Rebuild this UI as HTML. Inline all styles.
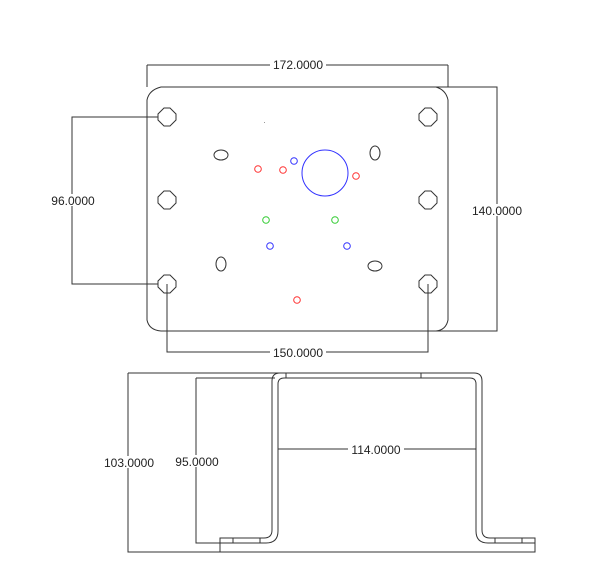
<!DOCTYPE html>
<html><head><style>
html,body{margin:0;padding:0;background:#fff;width:610px;height:588px;overflow:hidden}
text{font-family:"Liberation Sans",sans-serif;font-size:12px;fill:#222}
</style></head><body>
<svg width="610" height="588" viewBox="0 0 610 588" xmlns="http://www.w3.org/2000/svg">
<g fill="none" stroke="#333" stroke-width="1">
<!-- plate -->
<path d="M161,87 L436,87 Q446,90 448,100 L448,320 Q446,330 436,331 L161,331 Q149,330 147,320 L147,100 Q149,90 161,87 Z"/>
<!-- 172 dim -->
<path d="M147,65 L448,65 M147,65 L147,87 M448,65 L448,87"/>
<!-- 140 dim -->
<path d="M436,87 L497,87 L497,331 L436,331"/>
<!-- 96 dim -->
<path d="M158,117 L72,117 L72,284 L158,284"/>
<!-- 150 dim -->
<path d="M167,284 L167,352 L428,352 L428,284"/>
<!-- octagon holes -->
<g id="oct"><polygon points="164,108 170,108 176,114 176,120 170,126 164,126 158,120 158,114"/></g>
<polygon points="164,191 170,191 176,197 176,203 170,209 164,209 158,203 158,197"/>
<polygon points="164,275 170,275 176,281 176,287 170,293 164,293 158,287 158,281"/>
<polygon points="425,108 431,108 437,114 437,120 431,126 425,126 419,120 419,114"/>
<polygon points="425,191 431,191 437,197 437,203 431,209 425,209 419,203 419,197"/>
<polygon points="425,275 431,275 437,281 437,287 431,293 425,293 419,287 419,281"/>
<!-- slots -->
<ellipse cx="221" cy="155" rx="7" ry="5"/>
<ellipse cx="375" cy="153" rx="5" ry="7"/>
<ellipse cx="221" cy="264" rx="5" ry="7"/>
<ellipse cx="375" cy="266" rx="7" ry="5"/>
</g>
<g fill="none" stroke-width="1">
<circle cx="325" cy="173" r="23" stroke="#33f"/>
<circle cx="258" cy="169" r="3.3" stroke="#f33"/>
<circle cx="283" cy="170" r="3.3" stroke="#f33"/>
<circle cx="356" cy="176" r="3.3" stroke="#f33"/>
<circle cx="297" cy="300" r="3.3" stroke="#f33"/>
<circle cx="294" cy="161" r="3.3" stroke="#33f"/>
<circle cx="270" cy="246" r="3.3" stroke="#33f"/>
<circle cx="347" cy="246" r="3.3" stroke="#33f"/>
<circle cx="266" cy="220" r="3.3" stroke="#3c3"/>
<circle cx="335" cy="220" r="3.3" stroke="#3c3"/>
</g>
<rect x="264" y="122" width="1" height="1" fill="#999"/>
<!-- bottom view -->
<g fill="none" stroke="#333" stroke-width="1">
<path d="M128,373 L283,373 M128,373 L128,552 L220,552"/>
<path d="M196,378 L275,378 M196,378 L196,543 L220,543"/>
<!-- profile outer -->
<path d="M220,538 L264,538 Q272,538 272,530 L272,381 Q272,373 280,373 L474,373 Q482,373 482,381 L482,530 Q482,538 490,538 L535,538 L535,552 L220,552 Z"/>
<!-- profile inner -->
<path d="M220,543 L266,543 Q278,543 278,531 L278,384 Q278,378 284,378 L470,378 Q476,378 476,384 L476,531 Q476,543 488,543 L535,543"/>
<path d="M286,373 L286,378 M421,373 L421,378 M233,538 L233,543 M260,538 L260,543 M495,538 L495,543 M522,538 L522,543"/>
<path d="M278,449 L476,449"/>
</g>
<g>
<rect x="270" y="59" width="56" height="12" fill="#fff"/>
<text x="298" y="69" text-anchor="middle">172.0000</text>
<rect x="470" y="204" width="54" height="12" fill="#fff"/>
<text x="497" y="215" text-anchor="middle">140.0000</text>
<rect x="48" y="194" width="52" height="12" fill="#fff"/>
<text x="73" y="205" text-anchor="middle">96.0000</text>
<rect x="270" y="346" width="56" height="12" fill="#fff"/>
<text x="298" y="357" text-anchor="middle">150.0000</text>
<rect x="348" y="443" width="56" height="12" fill="#fff"/>
<text x="376" y="454" text-anchor="middle">114.0000</text>
<rect x="102" y="456" width="54" height="12" fill="#fff"/>
<text x="129" y="467" text-anchor="middle">103.0000</text>
<rect x="172" y="455" width="50" height="12" fill="#fff"/>
<text x="197" y="466" text-anchor="middle">95.0000</text>
</g>
</svg>
</body></html>
